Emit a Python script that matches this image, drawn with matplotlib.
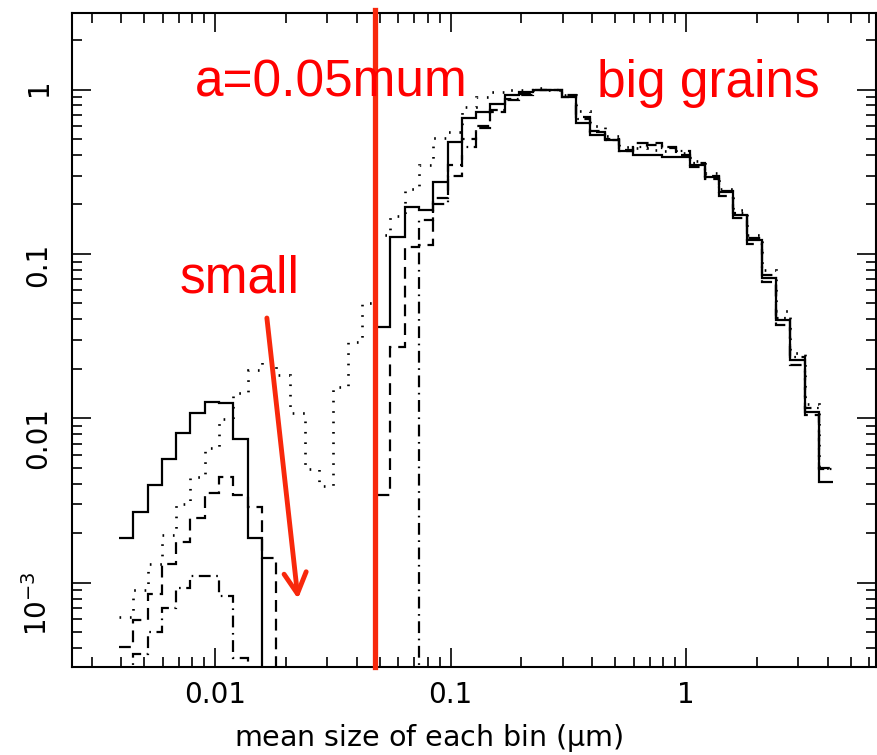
"""
Grain size distribution (log-log step histograms) with red annotations.
"""

import numpy as np
import matplotlib
matplotlib.use("Agg")
import matplotlib.pyplot as plt
from matplotlib.ticker import FixedLocator, FixedFormatter, LogLocator, NullFormatter

plt.rcParams["font.family"] = ["DejaVu Sans"]
plt.rcParams["mathtext.default"] = "regular"
plt.rcParams["lines.scale_dashes"] = False

# histogram binning: 50 log-spaced bins
bin_lo, bin_hi, n_bins = 0.00391, 4.21, 50

# normalised number per bin (0 = empty bin)
solid = [1.88e-3, 2.70e-3, 3.94e-3, 5.67e-3, 8.17e-3, 0.0108, 0.0126, 0.0124, 7.5e-3, 1.88e-3,
         0, 0, 0, 0, 0, 0, 0, 0, 0.036, 0.127,
         0.193, 0.185, 0.274, 0.48, 0.67, 0.73, 0.82, 0.93, 0.97, 1.0,
         1.0, 0.90, 0.63, 0.53, 0.49, 0.42, 0.40, 0.40, 0.39, 0.39,
         0.35, 0.294, 0.238, 0.173, 0.122, 0.0715, 0.0397, 0.0227, 0.011, 4.1e-3]

dotted = [6.2e-4, 9.1e-4, 1.3e-3, 1.95e-3, 3.0e-3, 4.4e-3, 6.6e-3, 9.9e-3, 0.0143, 0.0197,
          0.0221, 0.0183, 0.0108, 4.9e-3, 3.9e-3, 0.0155, 0.029, 0.050, 0.13, 0.17,
          0.25, 0.35, 0.51, 0.55, 0.78, 0.90, 0.96, 0.99, 1.0, 1.02,
          1.0, 0.93, 0.74, 0.60, 0.52, 0.45, 0.44, 0.43, 0.42, 0.41,
          0.37, 0.31, 0.25, 0.185, 0.13, 0.080, 0.045, 0.025, 0.0122, 5.0e-3]

dashed = [4.1e-4, 5.96e-4, 8.6e-4, 1.31e-3, 1.77e-3, 2.48e-3, 3.52e-3, 4.4e-3, 3.43e-3, 2.9e-3,
          1.42e-3, 0, 0, 0, 0, 0, 0, 0, 3.4e-3, 0.027,
          0.11, 0.113, 0.22, 0.35, 0.50, 0.58, 0.73, 0.86, 0.93, 0.99,
          1.0, 0.92, 0.68, 0.56, 0.50, 0.43, 0.47, 0.47, 0.44, 0.40,
          0.34, 0.285, 0.225, 0.165, 0.115, 0.068, 0.037, 0.021, 0.0105, 5.0e-3]

dashdot = [0, 3.7e-4, 5.0e-4, 7.0e-4, 9.3e-4, 1.1e-3, 1.1e-3, 8.3e-4, 3.5e-4, 0,
           0, 0, 0, 0, 0, 0, 0, 0, 0, 0,
           0, 0.16, 0.20, 0.30, 0.45, 0.60, 0.75, 0.88, 0.94, 0.99,
           1.0, 0.90, 0.66, 0.55, 0.49, 0.42, 0.45, 0.46, 0.45, 0.42,
           0.36, 0.30, 0.24, 0.178, 0.125, 0.074, 0.041, 0.0235, 0.0115, 4.9e-3]

x_ticks = [0.01, 0.1, 1]
x_labels = ["0.01", "0.1", "1"]
y_ticks = [1e-3, 0.01, 0.1, 1]
y_labels = ["$10^{-3}$", "0.01", "0.1", "1"]

cut_size = 0.048
RED_LINE = "#f8280c"
RED_TEXT = "#ff0000"

fig = plt.figure(figsize=(8.78, 7.55), dpi=100)
ax = fig.add_axes([72 / 878, 88 / 755, 804 / 878, 654 / 755])

edges = np.logspace(np.log10(bin_lo), np.log10(bin_hi), n_bins + 1)
styles = [
    (solid, "-", 1.6),
    (dotted, (0, (1.2, 6.3)), 1.9),
    (dashed, (0, (8.5, 5.0)), 1.6),
    (dashdot, (0, (8.5, 4.0, 1.2, 4.0)), 1.6),
]
for vals, ls, lw in styles:
    v = np.asarray(vals, dtype=float)
    v = np.where(v > 0, v, 1e-8)
    ax.stairs(v, edges, baseline=None, color="black", linestyle=ls, linewidth=lw)

ax.set_xscale("log")
ax.set_yscale("log")
ax.set_xlim(2.47e-3, 6.4)
ax.set_ylim(3.08e-4, 2.92)

ax.xaxis.set_major_locator(FixedLocator(x_ticks))
ax.xaxis.set_major_formatter(FixedFormatter(x_labels))
ax.yaxis.set_major_locator(FixedLocator(y_ticks))
ax.yaxis.set_major_formatter(FixedFormatter(y_labels))
ax.xaxis.set_minor_locator(LogLocator(base=10, subs=np.arange(2, 10), numticks=20))
ax.yaxis.set_minor_locator(LogLocator(base=10, subs=np.arange(2, 10), numticks=20))
ax.xaxis.set_minor_formatter(NullFormatter())
ax.yaxis.set_minor_formatter(NullFormatter())

ax.tick_params(which="both", direction="in", top=True, right=True, width=1.2)
ax.tick_params(which="major", length=14, labelsize=20)
ax.tick_params(which="minor", length=7)
ax.tick_params(axis="x", pad=10)
ax.tick_params(axis="y", pad=14, labelrotation=90)
for sp in ax.spines.values():
    sp.set_linewidth(1.5)

ax.set_xlabel("mean size of each bin ($\\mu$m)", fontsize=20.5)
ax.xaxis.set_label_coords(0.444, -0.084)

# annotations
ax.axvline(cut_size, ymin=0, ymax=1.005, color=RED_LINE, lw=3.8, zorder=10, clip_on=False)
txt = dict(color=RED_TEXT, fontsize=37, family=["Liberation Sans", "DejaVu Sans"],
           transform=ax.transAxes, va="baseline", ha="left", zorder=11)
ax.text(0.153, 0.8716, "a=0.05mum", **txt)
ax.text(0.653, 0.8716, "big grains", **txt)
ax.text(0.134, 0.5719, "small", **txt)
ax.annotate("", xy=(0.0225, 8.0e-4), xytext=(0.0166, 0.0408),
            arrowprops=dict(arrowstyle="->,head_length=0.75,head_width=0.4",
                            color=RED_LINE, lw=3.5, mutation_scale=20,
                            shrinkA=0, shrinkB=0),
            annotation_clip=False, zorder=10)

fig.savefig("out.png", dpi=100)
